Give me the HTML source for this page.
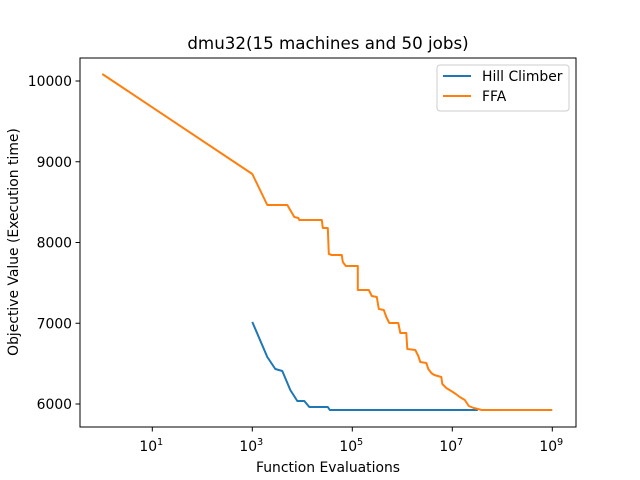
<!DOCTYPE html>
<html><head><meta charset="utf-8"><style>
body{margin:0;background:#fff;}
svg{display:block;font-family:"DejaVu Sans","Liberation Sans",sans-serif;}
</style></head><body>
<svg id="chart" width="640" height="480" viewBox="0 0 640 480"></svg>
<script>
const ffaLogEvals = [0,3.0,3.30,3.70,3.84,3.92,3.94,4.39,4.41,4.51,4.53,4.59,4.79,4.81,4.87,5.11,5.11,5.33,5.39,5.49,5.53,5.63,5.68,5.74,5.92,5.96,6.08,6.10,6.26,6.32,6.36,6.48,6.52,6.58,6.64,6.78,6.80,6.88,7.01,7.07,7.15,7.25,7.33,7.43,7.59,9.0];
const ffaValues = [10087,8848,8464,8464,8316,8303,8279,8279,8180,8180,7858,7845,7845,7758,7709,7709,7412,7412,7337,7325,7176,7164,7077,7003,7003,6879,6879,6681,6669,6594,6520,6508,6433,6384,6359,6334,6248,6198,6149,6124,6087,6050,5975,5950,5926,5926];
const hcLogEvals = [3.0,3.30,3.46,3.60,3.76,3.90,4.04,4.14,4.51,4.55,7.51];
const hcValues = [7015,6582,6433,6409,6173,6037,6037,5963,5963,5926,5926];
const xTickExps = [1,3,5,7,9];
const yTicks = [6000,7000,8000,9000,10000];

const L=80,R=576,T=58,B=427;
const xs = e => 102.3 + 50*e;
const ys = v => 81 + (10000 - v)*0.08075;
const NS='http://www.w3.org/2000/svg';
const svg=document.getElementById('chart');
function mk(tag,attrs,parent){const el=document.createElementNS(NS,tag);for(const k in attrs)el.setAttribute(k,attrs[k]);(parent||svg).appendChild(el);return el;}

let t=mk('text',{x:328,y:49,'text-anchor':'middle','font-size':16.7});
t.textContent='dmu32(15 machines and 50 jobs)';



function line(ex,vals,color,name){
  const pts=ex.map((e,i)=>xs(e).toFixed(1)+','+ys(vals[i]).toFixed(1)).join(' ');
  const p=mk('polyline',{points:pts,fill:'none',stroke:color,'stroke-width':2,'stroke-linejoin':'round'});
  
  
}
line(hcLogEvals,hcValues,'#1f77b4','hill-climber-line');
line(ffaLogEvals,ffaValues,'#ff7f0e','ffa-line');

const fr=mk('rect',{x:L,y:T,width:R-L,height:B-T,fill:'none',stroke:'#000','stroke-width':1});



xTickExps.forEach(e=>{
  const x=xs(e);
  const tk=mk('line',{x1:x,x2:x,y1:B,y2:B+4.5,stroke:'#000','stroke-width':1});
  
  
  const tx=mk('text',{x:x-1,y:B+24,'text-anchor':'middle','font-size':13.9});
  
  
  tx.appendChild(document.createTextNode('10'));
  const sp=mk('tspan',{dy:-6,'font-size':9.7},tx); sp.textContent=String(e);
});
yTicks.forEach(v=>{
  const y=ys(v);
  const tk=mk('line',{x1:L-4.5,x2:L,y1:y,y2:y,stroke:'#000','stroke-width':1});
  
  
  const tx=mk('text',{x:L-8,y:y+5,'text-anchor':'end','font-size':13.9});
  tx.textContent=String(v);
  
  
});
let xl=mk('text',{x:328,y:472,'text-anchor':'middle','font-size':13.9});
xl.textContent='Function Evaluations';


let yl=mk('text',{x:18,y:242,'text-anchor':'middle','font-size':13.9,transform:'rotate(-90 18 242)'});
yl.textContent='Objective Value (Execution time)';



const lg=mk('g',{});


mk('rect',{x:437,y:65,width:132,height:46,rx:3,fill:'#fff',stroke:'#ccc','stroke-width':1},lg);
const entries=[['Hill Climber','#1f77b4'],['FFA','#ff7f0e']];
entries.forEach((en,i)=>{
  const y=76+i*20;
  const g=mk('g',{},lg);
  
  
  mk('line',{x1:443,x2:471,y1:y,y2:y,stroke:en[1],'stroke-width':2},g);
  const tx=mk('text',{x:482,y:y+5,'font-size':13.9},g); tx.textContent=en[0];
});
</script>
</body></html>
